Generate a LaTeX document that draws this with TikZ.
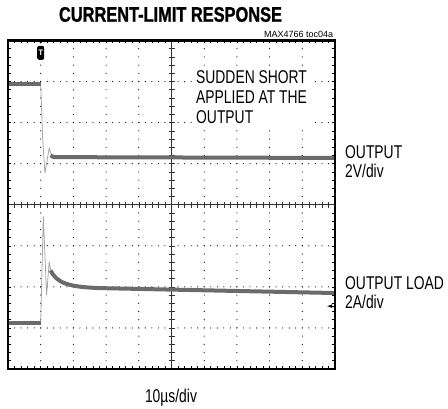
\documentclass[tikz,border=0pt]{standalone}
\usepackage{fontspec}
\setmainfont{Liberation Sans}
\newfontfamily\condfont{Liberation Sans}[FakeStretch=0.75]
\newfontfamily\headfont{Liberation Sans Bold}[FakeStretch=0.78, FakeBold=1.2]
\usepackage{tikz}
\usetikzlibrary{calc}

\begin{document}
\begin{tikzpicture}[x=1pt,y=1pt]
      \tikzset{scope dot/.style={fill=black},
        trace/.style={line width=4pt, color=black!58, line join=round},
        trace edge/.style={line width=0.8pt, color=black!35, line join=round},
        label text/.style={anchor=north west, inner sep=0pt, align=left,
          font=\condfont\fontsize{18.5}{19.5}\selectfont},
        trigger mark/.style={fill=black, text=white, rounded corners=2pt,
          inner sep=0pt, minimum width=7pt, minimum height=14pt,
          font=\bfseries\fontsize{8}{8}\selectfont}
      }
      \useasboundingbox (0,0) rectangle (448,409);
      \begin{scope}[shift={(8,40)}, x=32.7pt, y=41.06pt]
        % dotted grid
        \foreach \j in {1,2,3,5,6,7}
          \foreach \i in {1,...,49}
            \fill [scope dot] (\i/5,\j) circle (0.6pt);
        \foreach \i in {1,2,3,4,6,7,8,9}
          \foreach \k in {1,...,39}
            \fill [scope dot] (\i,\k/5) circle (0.6pt);
        % ticks on the frame
        \foreach \i in {1,...,49} {
          \draw [semithick] (\i/5,8) -- ++(0,-2.5pt);
          \draw [semithick] (\i/5,0) -- ++(0,2.5pt);
        }
        \foreach \k in {1,...,39} {
          \draw [semithick] (0,\k/5) -- ++(3pt,0);
          \draw [semithick] (10,\k/5) -- ++(-3pt,0);
        }
        % centre axes
        \draw [black!80, semithick] (0,4) -- (10,4);
        \draw [black!80, semithick] (5,0) -- (5,8);
        \foreach \i in {1,...,49}
          \draw [black!80, semithick] (\i/5,4) ++(0,-3pt) -- ++(0,6pt);
        \foreach \k in {1,...,39}
          \draw [black!80, semithick] (5,\k/5) ++(-3pt,0) -- ++(6pt,0);
        % output voltage
        \draw [trace edge] (1.0,6.94) -- (1.06,5.6) -- (1.13,4.77) -- (1.26,5.38) -- (1.35,5.16);
        \draw [trace] (0,6.94) -- (1.0,6.94);
        \draw [trace] (1.3,5.2) -- (1.4,5.16) -- (10,5.14);
        % load current
        \draw [trace edge] (1.0,1.13) -- (1.08,3.71) -- (1.18,1.80) -- (1.26,2.61) -- (1.32,2.35);
        \draw [trace] (0,1.13) -- (1.0,1.13);
        \draw [trace] (1.3,2.4) .. controls (1.5,2.1) and (1.8,2.0) .. (2.81,1.97) -- (10,1.85);
        % frame
        \draw [line width=2.6pt] (0,0) rectangle (10,8);
        % markers
        \fill (1,8) ++(-2.5pt,0) -- ++(5pt,0) -- ++(-2.5pt,-3pt) -- cycle;
        \node [trigger mark] (trig) at (1,7.7) {T};
        \coordinate (gnd) at (10,1.53);
        \draw [thick, -latex] (gnd) -- ++(-8pt,0);
      \end{scope}
      \node [anchor=base, inner sep=0pt, font=\headfont\fontsize{21}{21}\selectfont] (title) at (170.5,387.3) {CURRENT-LIMIT RESPONSE};
      \node [anchor=base east, inner sep=0pt, font=\fontsize{9}{9}\selectfont] (figid) at (333.3,371.3) {MAX4766 toc04a};
      \node [label text, fill=white, inner sep=3pt, font=\condfont\fontsize{18.5}{20}\selectfont] (note) at (193,342) {SUDDEN SHORT\\APPLIED AT THE\\OUTPUT};
      \node [label text] (outv) at (345,264) {OUTPUT\\2V/div};
      \node [label text] (outi) at (345,133) {OUTPUT LOAD\\2A/div};
      \node [anchor=base, inner sep=0pt, font=\condfont\fontsize{18.5}{19.5}\selectfont] (tdiv) at (171,6.3) {10µs/div};
    \end{tikzpicture}
\end{document}
